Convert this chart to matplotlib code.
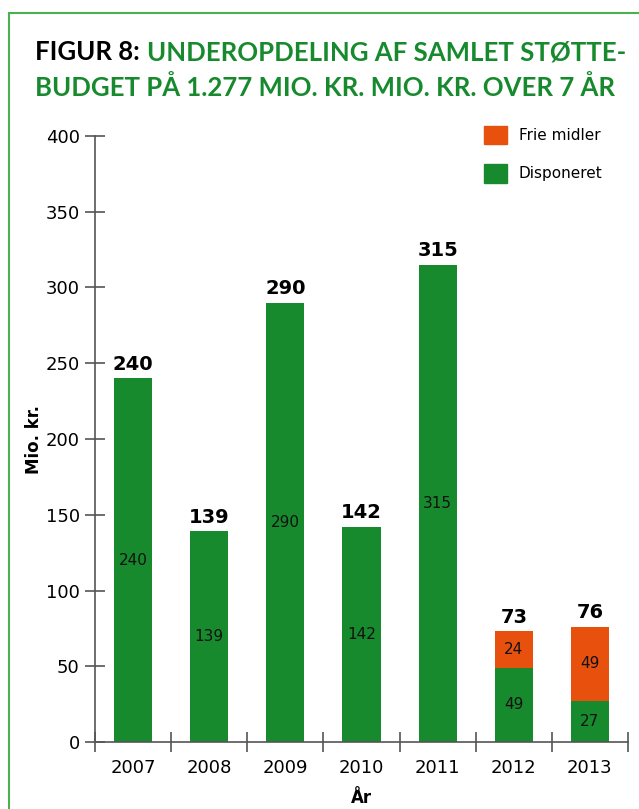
import matplotlib
matplotlib.use('Agg')
import matplotlib.pyplot as plt
import numpy as np
from matplotlib.patches import Rectangle, Patch

years = ['2007', '2008', '2009', '2010', '2011', '2012', '2013']
disponeret = [240, 139, 290, 142, 315, 49, 27]
frie_midler = [0, 0, 0, 0, 0, 24, 49]
totals = [240, 139, 290, 142, 315, 73, 76]

green = '#178A2E'
orange = '#E8500E'
grey = '#555555'

plt.rcParams['font.family'] = ['DejaVu Sans']

fig = plt.figure(figsize=(6.39, 8.09), dpi=100, facecolor='w')
W, H = 639., 809.
ax = fig.add_axes([95/W, 1 - 742/H, 533/W, (742 - 136)/H])

x = np.arange(len(years))
ax.bar(x, disponeret, width=0.5, color=green, label='Disponeret', zorder=2)
ax.bar(x, frie_midler, width=0.5, bottom=disponeret, color=orange, label='Frie midler', zorder=2)

for i in range(len(years)):
    ax.text(x[i], disponeret[i]/2., str(disponeret[i]), ha='center', va='center', fontsize=11, color='#111111')
    if frie_midler[i] > 0:
        ax.text(x[i], disponeret[i] + frie_midler[i]/2., str(frie_midler[i]), ha='center', va='center', fontsize=11, color='#111111')
    ax.text(x[i], totals[i] + 3, str(totals[i]), ha='center', va='bottom', fontsize=14, fontweight='bold')

ax.set_xlim(-0.5, 6.5)
ax.set_ylim(0, 400)
ax.set_yticks(np.arange(0, 401, 50))
ax.set_xticks(x)
ax.set_xticklabels(years)
ax.set_xticks(np.arange(-0.5, 7, 1), minor=True)
ax.tick_params(axis='x', which='major', length=0, pad=12, labelsize=13)
ax.tick_params(axis='x', which='minor', direction='inout', length=14, width=1.2, color=grey)
ax.tick_params(axis='y', direction='inout', length=14, width=1.2, color=grey, labelsize=13, pad=4)

for s in ['top', 'right']:
    ax.spines[s].set_visible(False)
for s in ['left', 'bottom']:
    ax.spines[s].set_color(grey)
    ax.spines[s].set_linewidth(1.2)

ax.set_ylabel('Mio. kr.', fontsize=12, fontweight='bold', labelpad=2)
ax.set_xlabel('År', fontsize=12, fontweight='bold', labelpad=9)

handles = [Patch(color=orange, label='Frie midler'), Patch(color=green, label='Disponeret')]
ax.legend(handles=handles, loc='upper right', bbox_to_anchor=(0.978, 1.04), frameon=False,
          fontsize=11, handlelength=1.5, handleheight=1.5, labelspacing=1.3, handletextpad=0.8)

# title: black lead-in followed by green text
t1 = fig.text(35/W, 1 - 52/H, 'FIGUR 8:', fontsize=18.5, fontweight='bold', color='black',
              va='center', ha='left', family='Lato')
ax.annotate('UNDEROPDELING AF SAMLET STØTTE-', xy=(1, 0.5), xycoords=t1, xytext=(5, 0),
            textcoords='offset points', fontsize=18.5, fontweight='bold',
            color=green, va='center', ha='left', family='Lato', annotation_clip=False)
fig.text(35/W, 1 - 88/H, 'BUDGET PÅ 1.277 MIO. KR. MIO. KR. OVER 7 ÅR', fontsize=18.5, fontweight='bold',
         color=green, va='center', ha='left', family='Lato')

# frame
fig.patches.append(Rectangle((9/W, -0.05), 1.0, 1 - 13/H + 0.05, transform=fig.transFigure,
                             fill=False, edgecolor='#4CAF50', lw=1.5))

plt.savefig('out.png', dpi=100)
